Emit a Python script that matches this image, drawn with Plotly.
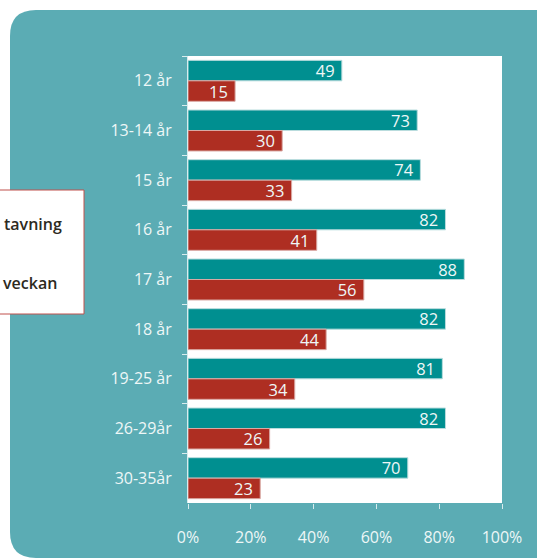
import plotly.graph_objects as go

# data
categories = ["12 år", "13-14 år", "15 år", "16 år", "17 år", "18 år",
              "19-25 år", "26-29år", "30-35år"]
teal_values = [49, 73, 74, 82, 88, 82, 81, 82, 70]
red_values = [15, 30, 33, 41, 56, 44, 34, 26, 23]
x_ticks = [0, 20, 40, 60, 80, 100]
x_tick_labels = ["0%", "20%", "40%", "60%", "80%", "100%"]
legend_texts = ["tavning", "veckan"]

W, H = 537, 559
L, R, T, B = 188, 502, 56, 503  # plot area in pixels

TEAL_BG = "#5BACB4"
TEAL = "#008F90"
RED = "#AE2E22"
LIGHT = "#EEF7F7"
FONT = "Open Sans"


def px(x):
    return (x - L) / (R - L)


def py(y):
    return (B - y) / (B - T)


def rounded_rect(x0, y0, x1, y1, r):
    """SVG path in paper coords for a rounded rectangle given in pixels"""
    pts = [
        f"M{px(x0 + r)},{py(y0)}",
        f"L{px(x1 - r)},{py(y0)}",
        f"Q{px(x1)},{py(y0)} {px(x1)},{py(y0 + r)}",
        f"L{px(x1)},{py(y1 - r)}",
        f"Q{px(x1)},{py(y1)} {px(x1 - r)},{py(y1)}",
        f"L{px(x0 + r)},{py(y1)}",
        f"Q{px(x0)},{py(y1)} {px(x0)},{py(y1 - r)}",
        f"L{px(x0)},{py(y0 + r)}",
        f"Q{px(x0)},{py(y0)} {px(x0 + r)},{py(y0)}",
        "Z",
    ]
    return " ".join(pts)


bar_text = dict(textposition="inside", insidetextanchor="end", textangle=0,
                constraintext="none", texttemplate="%{text}\u00a0",
                textfont=dict(color=LIGHT, size=16.5, family=FONT))

fig = go.Figure()

fig.add_trace(go.Bar(
    y=categories, x=teal_values, orientation="h",
    marker=dict(color=TEAL, line=dict(color="#B9DCDD", width=1)),
    text=teal_values, showlegend=False, **bar_text,
))
fig.add_trace(go.Bar(
    y=categories, x=red_values, orientation="h",
    marker=dict(color=RED, line=dict(color="#D9A9A4", width=1)),
    text=red_values, showlegend=False, **bar_text,
))

shapes = [
    # teal panel
    dict(type="path", xref="paper", yref="paper", layer="below",
         path=rounded_rect(10, 10, 562, 558, 26),
         fillcolor=TEAL_BG, line=dict(width=0)),
    # white plot area
    dict(type="rect", xref="paper", yref="paper", layer="below",
         x0=0, x1=1, y0=0, y1=1, fillcolor="white", line=dict(width=0)),
    # cut-off legend box
    dict(type="rect", xref="paper", yref="paper", layer="above",
         x0=px(-10), x1=px(84), y0=py(314), y1=py(190),
         fillcolor="white", line=dict(color="#C0504D", width=1)),
]

legend_font = dict(family=FONT, size=16, color="#2D2A1E", weight=600)
annotations = [
    dict(xref="paper", yref="paper", x=px(64), y=py(224), text=legend_texts[0],
         showarrow=False, xanchor="right", yanchor="middle", font=legend_font),
    dict(xref="paper", yref="paper", x=px(59), y=py(283), text=legend_texts[1],
         showarrow=False, xanchor="right", yanchor="middle", font=legend_font),
]

fig.update_layout(
    width=W, height=H,
    margin=dict(l=L, r=W - R, t=T, b=H - B, pad=0),
    paper_bgcolor="white", plot_bgcolor="white",
    barmode="group", bargap=0.175, bargroupgap=0,
    shapes=shapes, annotations=annotations,
    font=dict(family=FONT, color=LIGHT),
)

fig.update_xaxes(
    range=[0, 100], tickvals=x_ticks, ticktext=x_tick_labels,
    showgrid=False, zeroline=False, showline=False,
    ticks="outside", ticklen=5, tickcolor="#D8ECEE", tickwidth=1,
    tickfont=dict(size=16, color=LIGHT, family=FONT),
    ticklabelstandoff=15, fixedrange=True,
)
fig.update_yaxes(
    autorange="reversed", showgrid=False, zeroline=False,
    showline=True, linecolor="#D8ECEE", linewidth=1,
    ticks="outside", tickson="boundaries", ticklen=5,
    tickcolor="#D8ECEE", tickwidth=1,
    tickfont=dict(size=16, color=LIGHT, family=FONT),
    ticklabelstandoff=12, fixedrange=True,
)

# drop the browser's default body margin so the figure sits at 0,0
fig.write_html("out.html", config={"displayModeBar": False},
               post_script="document.body.style.margin='0px';")
